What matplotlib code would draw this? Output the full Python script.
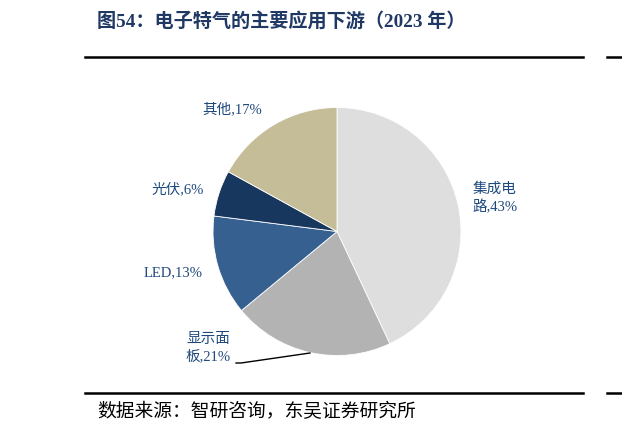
import matplotlib
matplotlib.use("Agg")
import matplotlib.pyplot as plt
from matplotlib.lines import Line2D

categories = ["集成电路", "显示面板", "LED", "光伏", "其他"]
shares = [43, 21, 13, 6, 17]
colors = ["#DEDEDE", "#B3B3B3", "#36608F", "#17375E", "#C4BD97"]
label_texts = ["集成电\n路,43%", "显示面\n板,21%", "LED,13%", "光伏,6%", "其他,17%"]

W, H = 622, 432
fig = plt.figure(figsize=(W / 100, H / 100), dpi=100)
fig.patch.set_facecolor("white")

FAM = ["Liberation Serif", "Noto Sans CJK SC", "DejaVu Sans"]

def fx(px):
    return px / W

def fy(py):
    return 1 - py / H

# pie
cx, cy, r = 337, 231.5, 124
ax = fig.add_axes([fx(cx - r), fy(cy + r), 2 * r / W, 2 * r / H])
ax.pie(shares, colors=colors, startangle=90, counterclock=False, radius=1,
       wedgeprops=dict(edgecolor="white", linewidth=0.6))
ax.set_xlim(-1, 1)
ax.set_ylim(-1, 1)
ax.axis("off")

# title
fig.text(fx(97), fy(21), "图54：电子特气的主要应用下游（2023 年）", family=FAM,
         fontsize=13.8, fontweight="bold", color="#1F3864", ha="left", va="center")

# rules
for y in (57, 393):
    fig.add_artist(Line2D([fx(85), fx(583)], [fy(y), fy(y)], color="black", lw=1.8))
    fig.add_artist(Line2D([fx(607), fx(622)], [fy(y), fy(y)], color="black", lw=1.8))

# labels
lab_color = "#1F497D"
pos = [(495, 198, "center"), (208, 348, "center"), (173, 273, "center"),
       (178, 189, "center"), (232, 109, "center")]
for txt, (px, py, ha) in zip(label_texts, pos):
    fig.text(fx(px), fy(py), txt, family=FAM, fontsize=10.5, color=lab_color,
             ha=ha, va="center", linespacing=1.35)

# leader line for display panel label
fig.add_artist(Line2D([fx(236), fx(241), fx(310)], [fy(363), fy(363), fy(353)],
                      color="black", lw=1.0))

# source
fig.text(fx(97), fy(412), "数据来源：智研咨询，东吴证券研究所", family=FAM,
         fontsize=13.5, color="black", ha="left", va="center")

fig.savefig("out.png", dpi=100, facecolor="white")
